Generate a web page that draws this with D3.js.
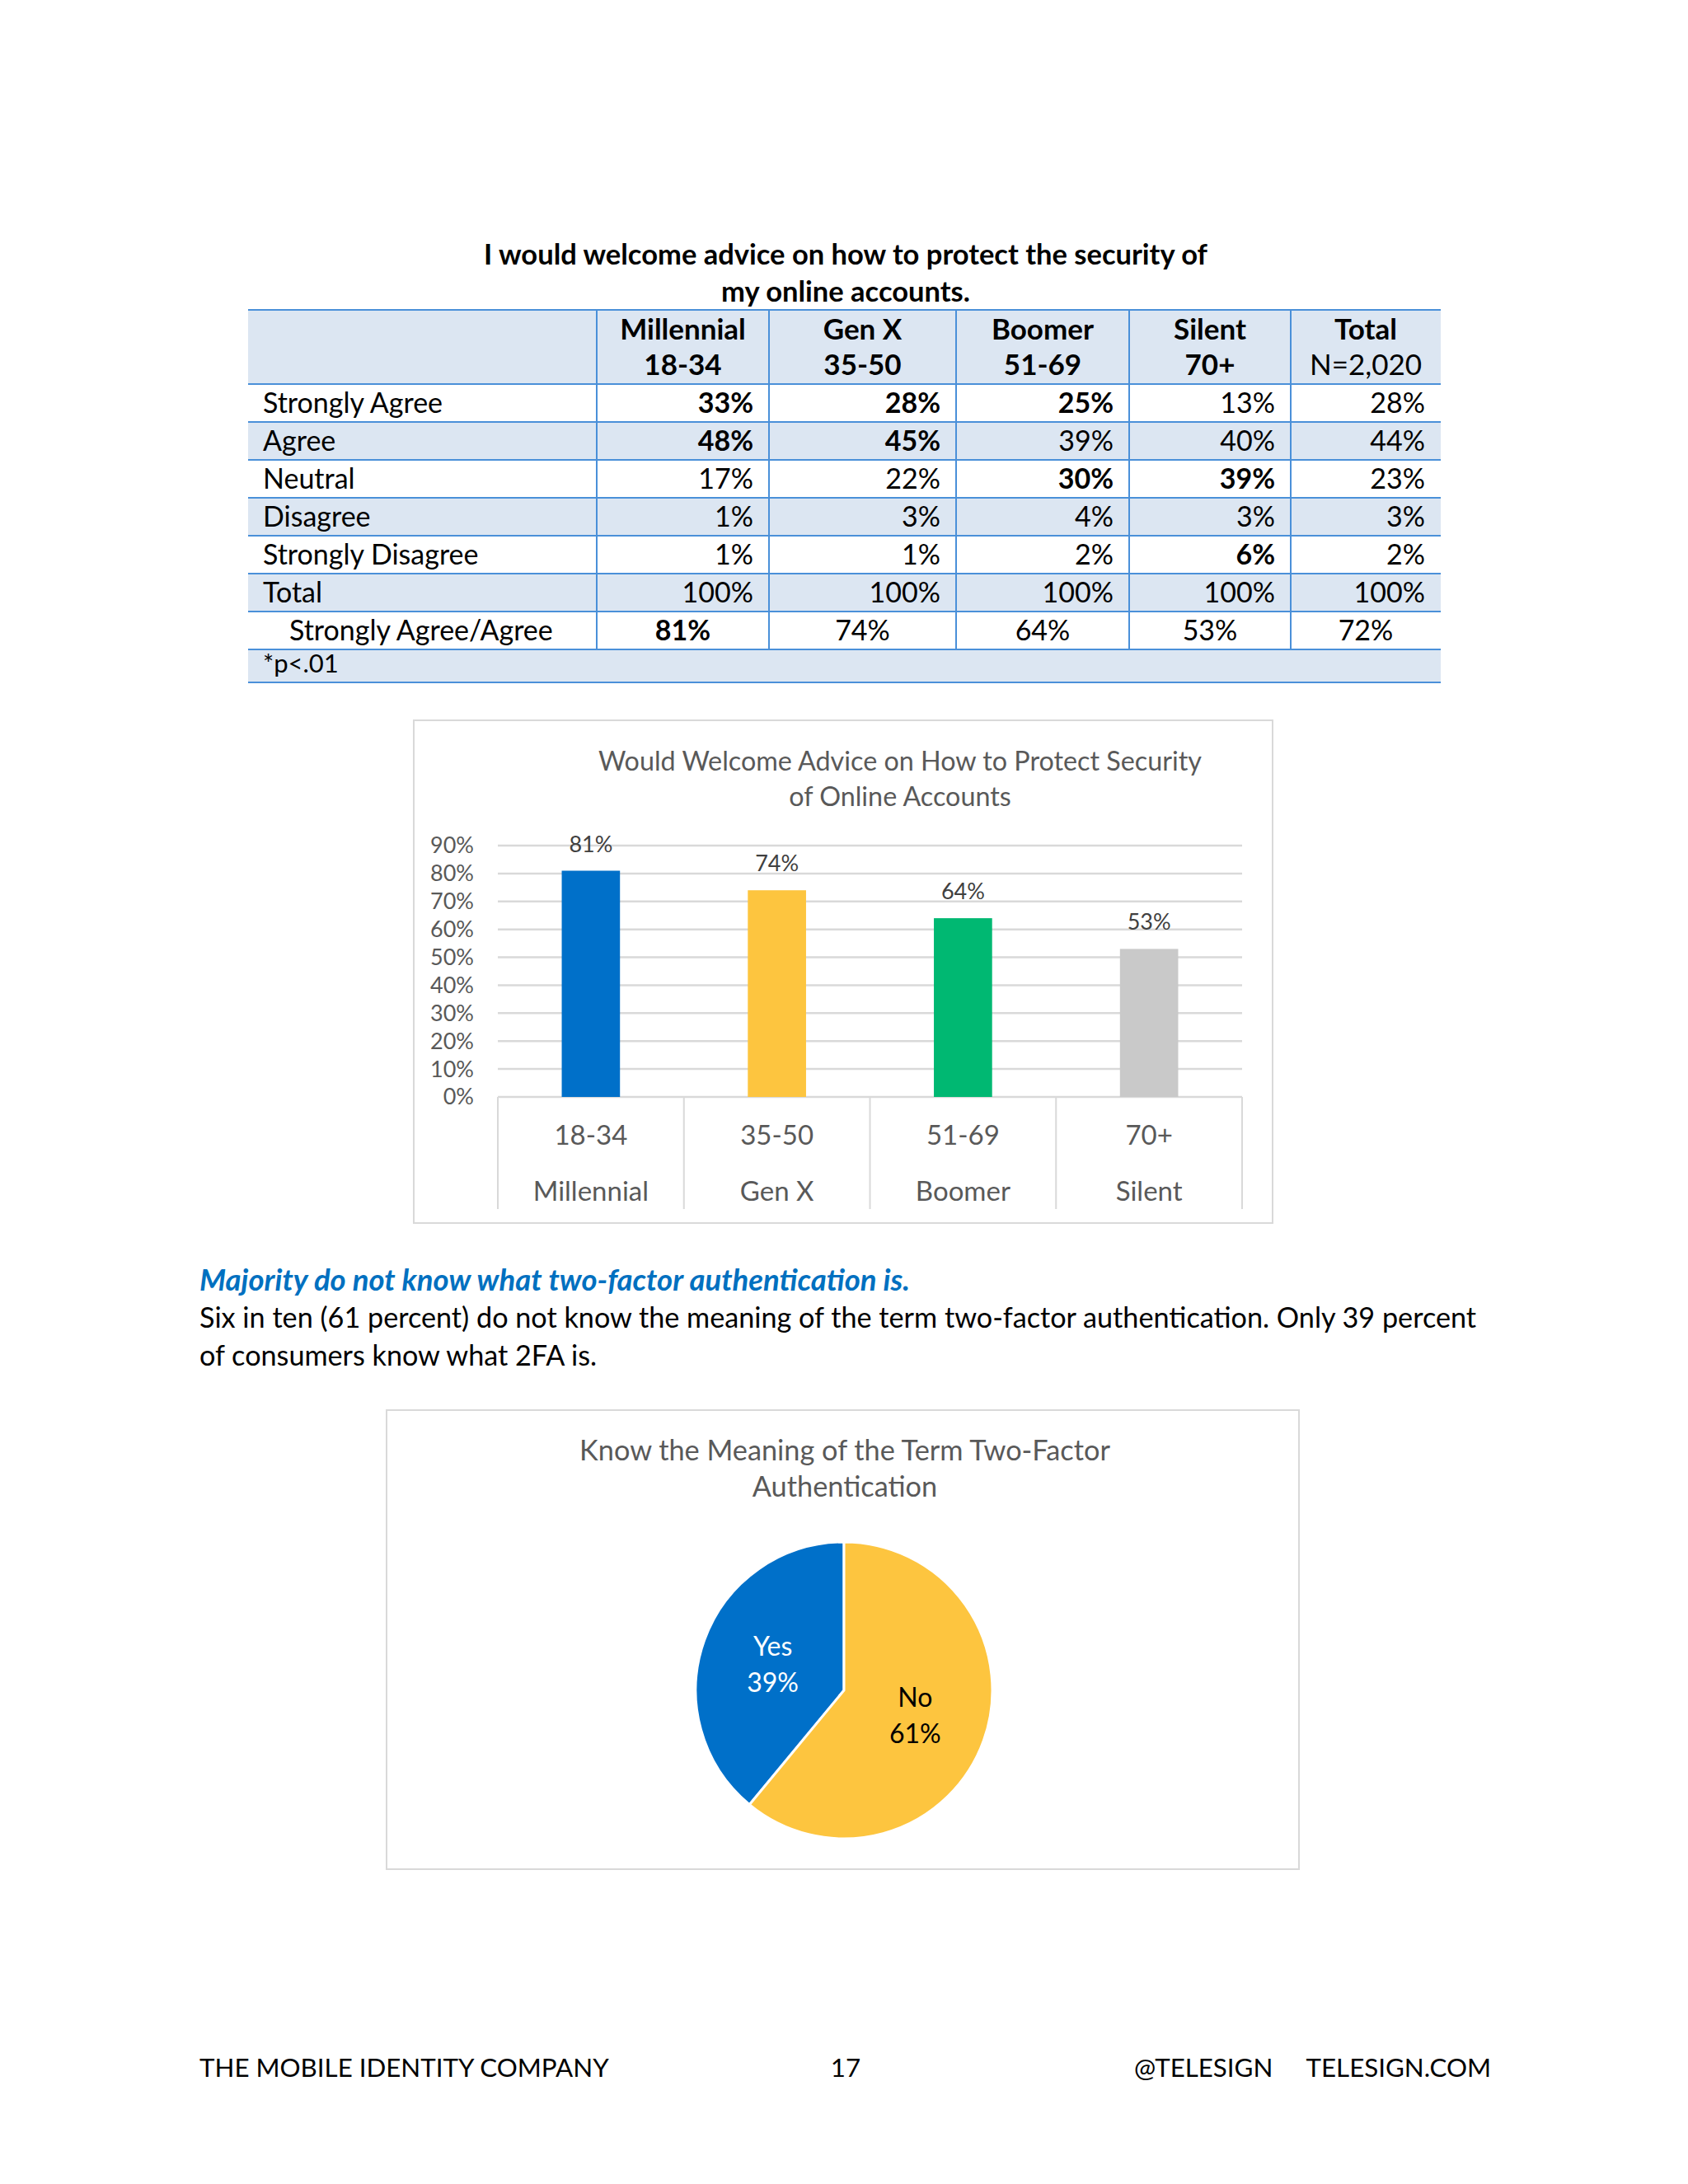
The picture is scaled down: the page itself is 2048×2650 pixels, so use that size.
<!DOCTYPE html>
<html>
<head>
<meta charset="utf-8">
<script src="https://cdn.jsdelivr.net/npm/d3@7"></script>
<style>
  body { margin: 0; background: #fff; }
  svg text { font-family: Lato, "Open Sans", sans-serif; }
</style>
</head>
<body>
<div id="wrapper"></div>
<script>
// table data
const groups = ["Millennial", "Gen X", "Boomer", "Silent", "Total"];
const groupSub = ["18-34", "35-50", "51-69", "70+", "N=2,020"];
const responses = ["Strongly Agree", "Agree", "Neutral", "Disagree", "Strongly Disagree", "Total"];
const tableValues = [
  [33, 28, 25, 13, 28],
  [48, 45, 39, 40, 44],
  [17, 22, 30, 39, 23],
  [1, 3, 4, 3, 3],
  [1, 1, 2, 6, 2],
  [100, 100, 100, 100, 100]
];
const boldCells = [
  [1, 1, 1, 0, 0],
  [1, 1, 0, 0, 0],
  [0, 0, 1, 1, 0],
  [0, 0, 0, 0, 0],
  [0, 0, 0, 1, 0],
  [0, 0, 0, 0, 0]
];
const agreeLabel = "Strongly Agree/Agree";
const agreeTotals = [81, 74, 64, 53, 72];
const agreeBold = [1, 0, 0, 0, 0];

// bar chart data
const barAges = ["18-34", "35-50", "51-69", "70+"];
const barGens = ["Millennial", "Gen X", "Boomer", "Silent"];
const barValues = [81, 74, 64, 53];
const barColors = ["#0070c9", "#fdc53f", "#00b872", "#c9c9c9"];
const yTicks = [0, 10, 20, 30, 40, 50, 60, 70, 80, 90];

// pie data
const pieLabels = ["Yes", "No"];
const pieValues = [39, 61];
const pieColors = ["#0070c9", "#fdc53f"];
const pieTextColors = ["#ffffff", "#000000"];

const W = 2048, H = 2650;
const svg = d3.select("#wrapper").append("svg")
  .attr("width", W).attr("height", H);
svg.append("rect").attr("width", W).attr("height", H).attr("fill", "#fff");

// ---------- table ----------
const tbl = svg.append("g");
const blue = "#4a90d9", fill = "#dce6f2";
const colX = [301, 724, 933, 1160, 1370, 1566, 1748];
const rowY = d3.scaleLinear().domain([0, 1]).range([466, 512]); // row i top = rowY(i)
const headTop = 376, footBottom = 828;

tbl.selectAll("text.ttl")
  .data(["I would welcome advice on how to protect the security of", "my online accounts."])
  .join("text")
  .attr("x", 1026).attr("y", (d, i) => 321 + i * 45)
  .attr("text-anchor", "middle")
  .style("font-size", "34.5px").style("font-weight", 700)
  .text(d => d);

// fills: header, Agree, Disagree, Total, footnote
tbl.append("rect").attr("x", colX[0]).attr("y", headTop)
  .attr("width", colX[6] - colX[0]).attr("height", rowY(0) - headTop).attr("fill", fill);
[1, 3, 5].forEach(i => {
  tbl.append("rect").attr("x", colX[0]).attr("y", rowY(i))
    .attr("width", colX[6] - colX[0]).attr("height", rowY(i + 1) - rowY(i)).attr("fill", fill);
});
tbl.append("rect").attr("x", colX[0]).attr("y", rowY(7))
  .attr("width", colX[6] - colX[0]).attr("height", footBottom - rowY(7)).attr("fill", fill);

// horizontal lines
const hLines = [headTop].concat(d3.range(0, 8).map(i => rowY(i))).concat([footBottom]);
tbl.selectAll("line.h").data(hLines).join("line")
  .attr("x1", colX[0]).attr("x2", colX[6])
  .attr("y1", d => d).attr("y2", d => d)
  .attr("stroke", blue).attr("stroke-width", 2);
// vertical lines
tbl.selectAll("line.v").data(colX.slice(1, 6)).join("line")
  .attr("x1", d => d).attr("x2", d => d)
  .attr("y1", headTop).attr("y2", rowY(7))
  .attr("stroke", blue).attr("stroke-width", 2);

// header text
groups.forEach((g, j) => {
  const cx = (colX[j + 1] + colX[j + 2]) / 2;
  tbl.append("text").attr("x", cx).attr("y", 412).attr("text-anchor", "middle")
    .style("font-size", "35px").style("font-weight", 700).text(g);
  tbl.append("text").attr("x", cx).attr("y", 455).attr("text-anchor", "middle")
    .style("font-size", "35px").style("font-weight", j === 4 ? 400 : 700).text(groupSub[j]);
});

// body rows
responses.forEach((r, i) => {
  const base = rowY(i + 1) - 11;
  tbl.append("text").attr("x", 319).attr("y", base)
    .style("font-size", "34px").text(r);
  tableValues[i].forEach((v, j) => {
    tbl.append("text").attr("x", colX[j + 2] - 19).attr("y", base)
      .attr("text-anchor", "end")
      .style("font-size", "34px").style("font-weight", boldCells[i][j] ? 700 : 400)
      .text(v + "%");
  });
});
tbl.append("text").attr("x", 351).attr("y", rowY(7) - 11)
  .style("font-size", "34px").text(agreeLabel);
agreeTotals.forEach((v, j) => {
  tbl.append("text").attr("x", (colX[j + 1] + colX[j + 2]) / 2).attr("y", rowY(7) - 11)
    .attr("text-anchor", "middle")
    .style("font-size", "34px").style("font-weight", agreeBold[j] ? 700 : 400)
    .text(v + "%");
});
tbl.append("text").attr("x", 319).attr("y", 816)
  .style("font-size", "31px").text("*p<.01");

// ---------- bar chart ----------
const bc = svg.append("g");
const grey = "#595959", gridC = "#d9d9d9";
bc.append("rect").attr("x", 502).attr("y", 874).attr("width", 1042).attr("height", 610)
  .attr("fill", "#fff").attr("stroke", gridC).attr("stroke-width", 2);

bc.selectAll("text.ttl")
  .data(["Would Welcome Advice on How to Protect Security", "of Online Accounts"])
  .join("text")
  .attr("x", 1092).attr("y", (d, i) => 935 + i * 43)
  .attr("text-anchor", "middle").attr("fill", grey)
  .style("font-size", "32.3px")
  .text(d => d);

const x = d3.scaleBand().domain(barAges).range([604, 1507])
  .paddingInner(0.687).paddingOuter(0.3435);
const y = d3.scaleLinear().domain([0, 90]).range([1331, 1026]);

bc.selectAll("line.grid").data(yTicks).join("line")
  .attr("x1", 604).attr("x2", 1507)
  .attr("y1", d => y(d)).attr("y2", d => y(d))
  .attr("stroke", gridC).attr("stroke-width", 2.5);

bc.selectAll("text.ytick").data(yTicks).join("text")
  .attr("x", 575).attr("y", d => y(d)).attr("dy", "0.35em")
  .attr("text-anchor", "end").attr("fill", grey)
  .style("font-size", "27px")
  .text(d => d + "%");

// category boxes
const step = x.step();
const bounds = d3.range(0, barAges.length + 1).map(i => 604 + i * step);
bc.selectAll("line.cat").data(bounds).join("line")
  .attr("x1", d => d).attr("x2", d => d)
  .attr("y1", y(0)).attr("y2", 1467)
  .attr("stroke", gridC).attr("stroke-width", 2);

bc.selectAll("rect.bar").data(barValues).join("rect")
  .attr("x", (d, i) => x(barAges[i]))
  .attr("y", d => y(d))
  .attr("width", x.bandwidth())
  .attr("height", d => y(0) - y(d))
  .attr("fill", (d, i) => barColors[i]);

bc.selectAll("text.val").data(barValues).join("text")
  .attr("x", (d, i) => x(barAges[i]) + x.bandwidth() / 2)
  .attr("y", d => y(d) - 23)
  .attr("text-anchor", "middle").attr("fill", "#404040")
  .style("font-size", "27px")
  .text(d => d + "%");

barAges.forEach((a, i) => {
  const cx = x(a) + x.bandwidth() / 2;
  bc.append("text").attr("x", cx).attr("y", 1389).attr("text-anchor", "middle")
    .attr("fill", grey).style("font-size", "33px").text(a);
  bc.append("text").attr("x", cx).attr("y", 1457).attr("text-anchor", "middle")
    .attr("fill", grey).style("font-size", "33px").text(barGens[i]);
});

// ---------- text block ----------
svg.append("text").attr("x", 242).attr("y", 1566)
  .attr("fill", "#0070c0")
  .style("font-size", "36.5px").style("font-weight", 700).style("font-style", "italic")
  .text("Majority do not know what two-factor authentication is.");
svg.selectAll("text.para")
  .data(["Six in ten (61 percent) do not know the meaning of the term two-factor authentication. Only 39 percent",
         "of consumers know what 2FA is."])
  .join("text")
  .attr("x", 242).attr("y", (d, i) => 1611 + i * 45.5)
  .style("font-size", "34.2px")
  .text(d => d);

// ---------- pie chart ----------
const pc = svg.append("g");
pc.append("rect").attr("x", 469).attr("y", 1711).attr("width", 1107).attr("height", 557)
  .attr("fill", "#fff").attr("stroke", gridC).attr("stroke-width", 2);
pc.selectAll("text.ttl")
  .data(["Know the Meaning of the Term Two-Factor", "Authentication"])
  .join("text")
  .attr("x", 1025).attr("y", (d, i) => 1772 + i * 44)
  .attr("text-anchor", "middle").attr("fill", grey)
  .style("font-size", "34.3px")
  .text(d => d);

const pieTotal = d3.sum(pieValues);
const start = -2 * Math.PI * pieValues[0] / pieTotal;
const pie = d3.pie().sort(null).startAngle(start).endAngle(start + 2 * Math.PI);
const arcs = pie(pieValues);
const r = 180;
const arc = d3.arc().innerRadius(0).outerRadius(r);
const labelArc = d3.arc().innerRadius(r * 0.51).outerRadius(r * 0.51);
const pg = pc.append("g").attr("transform", "translate(1024,2051)");
pg.selectAll("path").data(arcs).join("path")
  .attr("d", arc)
  .attr("fill", (d, i) => pieColors[i])
  .attr("stroke", "#fff").attr("stroke-width", 3);

arcs.forEach((a, i) => {
  const [cx, cy] = labelArc.centroid(a);
  const t = pg.append("text").attr("text-anchor", "middle")
    .attr("fill", pieTextColors[i]).style("font-size", "32px");
  t.append("tspan").attr("x", cx).attr("y", cy - 11).text(pieLabels[i]);
  t.append("tspan").attr("x", cx).attr("y", cy + 33).text(pieValues[i] + "%");
});

// ---------- footer ----------
const foot = svg.append("g").style("font-size", "31.3px");
foot.append("text").attr("x", 242).attr("y", 2520).text("THE MOBILE IDENTITY COMPANY");
foot.append("text").attr("x", 1026).attr("y", 2520).attr("text-anchor", "middle").text("17");
foot.append("text").attr("x", 1376).attr("y", 2520).text("@TELESIGN");
foot.append("text").attr("x", 1809).attr("y", 2520).attr("text-anchor", "end").text("TELESIGN.COM");
</script>
</body>
</html>
